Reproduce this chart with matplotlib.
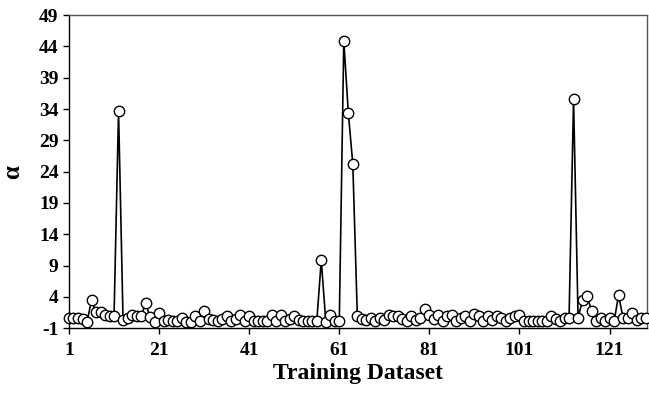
import matplotlib
matplotlib.use("Agg")
import matplotlib.pyplot as plt
import numpy as np

plt.rcParams['font.family'] = ['Liberation Serif', 'DejaVu Serif']
plt.rcParams['axes.unicode_minus'] = False

alpha_values = [
    0.7, 0.7, 0.6, 0.5, 0.0, 3.5, 1.55, 1.6, 1.2, 1.0,
    0.9, 33.7, 0.3, 0.6, 1.1, 0.9, 0.9, 3.0, 0.8, 0.0,
    1.4, 0.1, 0.25, 0.1, 0.1, 0.6, 0.0, 0.0, 0.9, 0.1,
    1.8, 0.5, 0.4, 0.1, 0.5, 1.0, 0.1, 0.5, 1.2, 0.1,
    1.0, 0.1, 0.2, 0.2, 0.2, 1.2, 0.1, 1.2, 0.1, 0.5,
    0.95, 0.35, 0.1, 0.1, 0.1, 0.1, 9.9, 0.05, 1.2, 0.1,
    0.1, 44.9, 33.4, 25.2, 1.0, 0.5, 0.25, 0.6, 0.1, 0.6,
    0.3, 1.1, 1.0, 0.9, 0.5, 0.1, 0.9, 0.3, 0.6, 2.1,
    1.1, 0.5, 1.2, 0.2, 0.9, 1.1, 0.2, 0.6, 0.9, 0.2,
    1.3, 0.9, 0.2, 0.9, 0.4, 0.9, 0.6, 0.1, 0.6, 0.9,
    1.1, 0.1, 0.1, 0.1, 0.1, 0.1, 0.1, 0.9, 0.5, 0.1,
    0.6, 0.6, 35.6, 0.7, 3.5, 4.2, 1.8, 0.1, 0.6, 0.1,
    0.6, 0.1, 4.3, 0.6, 0.6, 1.4, 0.3, 0.6, 0.6,
]
sample_index = list(range(1, len(alpha_values) + 1))

x_ticks = [1, 21, 41, 61, 81, 101, 121]
y_ticks = [-1, 4, 9, 14, 19, 24, 29, 34, 39, 44, 49]

fig = plt.figure(figsize=(6.49, 3.93), dpi=100)
ax = fig.add_axes([0.1063, 0.1646, 0.8906, 0.7972])

ax.plot(sample_index, alpha_values, color='black', linewidth=1.2,
        marker='o', markersize=7.5, markerfacecolor='white',
        markeredgecolor='black', markeredgewidth=1.0, clip_on=False,
        zorder=3)

ax.set_xlim(1, 129.3)
ax.set_ylim(-1, 49)
ax.set_xticks(x_ticks)
ax.set_yticks(y_ticks)
ax.tick_params(direction='out', length=4.5, width=1, top=False, right=False,
               labelsize=14)
ax.tick_params(axis='x', pad=5)
ax.tick_params(axis='y', pad=3)
for lab in ax.get_xticklabels() + ax.get_yticklabels():
    lab.set_fontweight('bold')
for sp in ax.spines.values():
    sp.set_linewidth(1.0)
ax.spines['top'].set_color('#555555')
ax.spines['right'].set_color('#555555')

ax.set_xlabel('Training Dataset', fontsize=17, fontweight='bold', labelpad=3)
ax.set_ylabel('α', fontsize=18, fontweight='bold')
ax.yaxis.set_label_coords(-0.078, 0.5)

fig.savefig('out.png', dpi=100)
